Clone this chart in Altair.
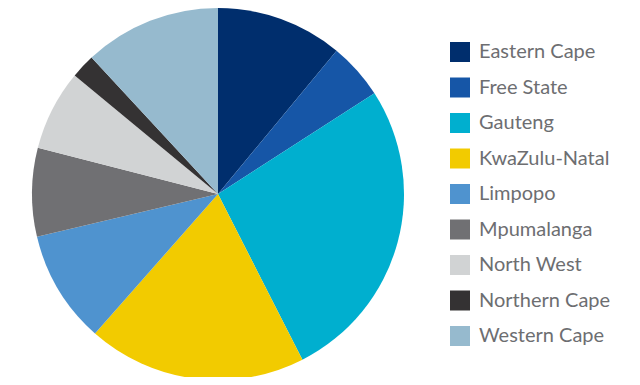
import altair as alt
import pandas as pd

provinces = ["Eastern Cape", "Free State", "Gauteng", "KwaZulu-Natal", "Limpopo",
             "Mpumalanga", "North West", "Northern Cape", "Western Cape"]
shares = [11.0, 4.9, 26.6, 19.0, 9.8, 7.7, 7.0, 2.1, 11.9]
colors = ["#002e6d", "#1656a7", "#00afcf", "#f2cb00", "#4f93cf",
          "#707073", "#d1d3d4", "#343233", "#96bace"]

df = pd.DataFrame({"province": provinces, "share": shares, "idx": list(range(len(provinces)))})

chart = alt.Chart(df).mark_arc(radius=186, stroke=None).encode(
    theta=alt.Theta("share:Q", stack=True),
    order=alt.Order("idx:Q", sort="ascending"),
    x=alt.value(210),
    y=alt.value(186),
    color=alt.Color(
        "province:N",
        scale=alt.Scale(domain=provinces, range=colors),
        legend=alt.Legend(
            title=None,
            orient="none",
            legendX=442,
            legendY=34,
            symbolType="square",
            symbolSize=400,
            symbolStrokeWidth=0,
            symbolOpacity=1,
            labelFont="Lato",
            labelFontSize=20,
            labelColor="#6d6e71",
            labelOffset=9,
            rowPadding=15.5,
            labelLimit=300,
        ),
    ),
).properties(
    width=624,
    height=369,
    padding=0,
    autosize=alt.AutoSizeParams(type="none"),
).configure_view(stroke=None)

chart.save("out.html", embed_options={"renderer": "svg", "actions": False})
